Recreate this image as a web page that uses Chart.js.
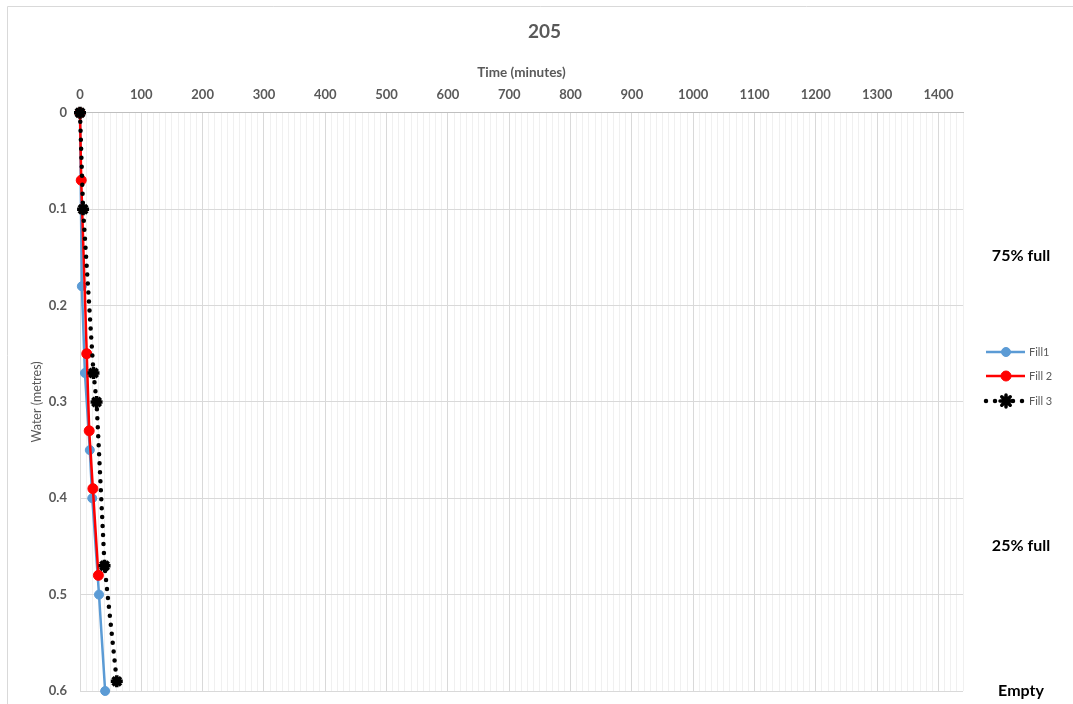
<!DOCTYPE html>
<html>
<head>
<meta charset="utf-8">
<title>205</title>
<script src="https://cdn.jsdelivr.net/npm/chart.js@4.4.1/dist/chart.umd.min.js"></script>
<style>
  html, body { margin: 0; padding: 0; background: #fff; }
  #wrap { position: relative; width: 1073px; height: 704px; }
</style>
</head>
<body>
<div id="wrap"><canvas id="tank"></canvas></div>
<script>
// drain-down readings: time in minutes, water depth in metres
const fill1Time = [0, 3, 8, 16, 20, 31, 41];
const fill1Depth = [0, 0.18, 0.27, 0.35, 0.40, 0.50, 0.60];

const fill2Time = [0, 2, 11, 15, 21, 30];
const fill2Depth = [0, 0.07, 0.25, 0.33, 0.39, 0.48];

const fill3Time = [0, 5, 22, 27, 40, 60];
const fill3Depth = [0, 0.10, 0.27, 0.30, 0.47, 0.59];

const seriesNames = ["Fill1", "Fill 2", "Fill 3"];

// level markers on the right, placed at a depth
const levelLabels = ["75% full", "25% full", "Empty"];
const levelDepths = [0.148, 0.449, 0.6];

const FONT = "Lato, 'Open Sans', sans-serif";
const GREY = "#595959";

function pairs(xs, ys) {
  return xs.map((x, i) => ({ x: x, y: ys[i] }));
}

// legend + level labels + outer frame
const extras = {
  id: "extras",
  afterDraw(chart) {
    const ctx = chart.ctx;
    const y = chart.scales.y;
    ctx.save();

    ctx.strokeStyle = "#d9d9d9";
    ctx.lineWidth = 1;
    ctx.beginPath();
    ctx.moveTo(7.5, 704);
    ctx.lineTo(7.5, 6.5);
    ctx.lineTo(1073, 6.5);
    ctx.stroke();

    ctx.fillStyle = "#000";
    ctx.font = "bold 16px " + FONT;
    ctx.textAlign = "center";
    ctx.textBaseline = "middle";
    levelLabels.forEach((t, i) => {
      ctx.fillText(t, 1021, y.getPixelForValue(levelDepths[i]));
    });

    const rowY = [352, 376, 401];
    chart.data.datasets.forEach((ds, i) => {
      const cy = rowY[i];
      ctx.save();
      ctx.strokeStyle = ds.borderColor;
      ctx.lineWidth = ds.borderWidth;
      ctx.lineCap = ds.borderCapStyle || "butt";
      ctx.setLineDash(ds.borderDash || []);
      ctx.beginPath();
      ctx.moveTo(986, cy);
      ctx.lineTo(1025, cy);
      ctx.stroke();
      ctx.setLineDash([]);
      ctx.fillStyle = ds.pointBackgroundColor;
      ctx.strokeStyle = ds.pointBorderColor;
      ctx.lineWidth = ds.pointBorderWidth;
      Chart.helpers.drawPoint(ctx, {
        pointStyle: ds.pointStyle,
        radius: ds.pointRadius,
        rotation: 0,
        borderWidth: ds.pointBorderWidth
      }, 1006, cy);
      ctx.restore();
      ctx.fillStyle = GREY;
      ctx.font = "11px " + FONT;
      ctx.textAlign = "left";
      ctx.textBaseline = "middle";
      ctx.fillText(ds.label, 1029, cy);
    });
    ctx.restore();
  }
};

new Chart(document.getElementById("tank"), {
  type: "scatter",
  data: {
    datasets: [
      {
        label: seriesNames[0],
        data: pairs(fill1Time, fill1Depth),
        order: 2,
        showLine: true,
        borderColor: "#5b9bd5",
        borderWidth: 2.5,
        pointStyle: "circle",
        pointRadius: 4.5,
        pointBackgroundColor: "#5b9bd5",
        pointBorderColor: "#5b9bd5",
        pointBorderWidth: 1,
        clip: false
      },
      {
        label: seriesNames[1],
        data: pairs(fill2Time, fill2Depth),
        order: 1,
        showLine: true,
        borderColor: "#ff0000",
        borderWidth: 2.5,
        pointStyle: "circle",
        pointRadius: 5,
        pointBackgroundColor: "#ff0000",
        pointBorderColor: "#ff0000",
        pointBorderWidth: 1,
        clip: false
      },
      {
        label: seriesNames[2],
        data: pairs(fill3Time, fill3Depth),
        order: 0,
        showLine: true,
        borderColor: "#000",
        borderWidth: 4.5,
        borderDash: [0, 9],
        borderCapStyle: "round",
        pointStyle: "star",
        pointRadius: 6,
        pointBackgroundColor: "#000",
        pointBorderColor: "#000",
        pointBorderWidth: 3.5,
        clip: false
      }
    ]
  },
  options: {
    responsive: true,
    maintainAspectRatio: false,
    animation: false,
    layout: { padding: { left: 16, top: 20, right: 0, bottom: 13 } },
    plugins: {
      legend: { display: false },
      tooltip: { enabled: false },
      title: {
        display: true,
        text: "205",
        color: GREY,
        font: { family: FONT, size: 19, weight: "bold" },
        padding: { top: 0, bottom: 8 }
      }
    },
    scales: {
      x: {
        type: "linear",
        position: "top",
        min: 0,
        max: 1440,
        afterFit(scale) { scale.height = 62; },
        title: {
          display: true,
          text: "Time (minutes)",
          color: GREY,
          font: { family: FONT, size: 13.5, weight: "bold" },
          padding: { top: 14, bottom: 0 }
        },
        ticks: {
          stepSize: 10,
          maxTicksLimit: 200,
          autoSkip: false,
          maxRotation: 0,
          padding: 10,
          color: GREY,
          font: { family: FONT, size: 13, weight: "bold" },
          callback: (v) => (v % 100 === 0 ? v : "")
        },
        grid: {
          drawTicks: false,
          color: (c) => (c.tick && c.tick.value % 100 === 0 ? "#d9d9d9" : "#f0f0f0")
        },
        border: { display: true, color: "#bfbfbf" }
      },
      y: {
        type: "linear",
        reverse: true,
        min: 0,
        max: 0.6,
        afterFit(scale) {
          scale.width = 64;
          scale.paddingTop = 0;
          scale.paddingBottom = 0;
        },
        title: {
          display: true,
          text: "Water (metres)",
          color: GREY,
          font: { family: FONT, size: 12.5 },
          padding: { top: 13, bottom: 0 }
        },
        ticks: {
          stepSize: 0.1,
          padding: 13,
          color: GREY,
          font: { family: FONT, size: 13, weight: "bold" },
          callback: (v) => +v.toFixed(1)
        },
        grid: { drawTicks: false, color: "#d9d9d9" },
        border: { display: true, color: "#d9d9d9" }
      },
      // empty right-hand band that holds the legend and level labels
      side: {
        type: "linear",
        position: "right",
        display: true,
        afterFit(scale) {
          scale.width = 110;
          scale.paddingTop = 0;
          scale.paddingBottom = 0;
        },
        ticks: { display: false },
        grid: { display: false, drawTicks: false },
        border: { display: false }
      }
    }
  },
  plugins: [extras]
});
</script>
</body>
</html>
